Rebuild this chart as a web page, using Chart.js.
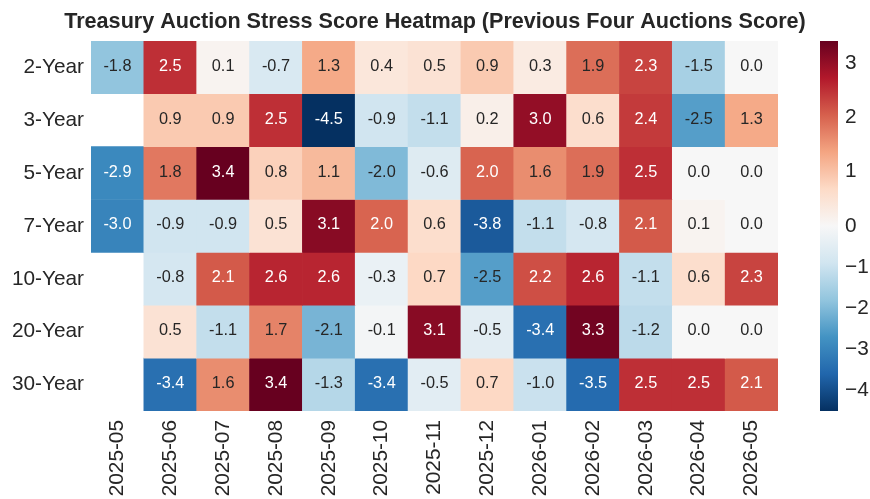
<!DOCTYPE html>
<html>
<head>
<meta charset="utf-8">
<script src="https://cdn.jsdelivr.net/npm/chart.js@4"></script>
<style>
  html, body { margin: 0; padding: 0; background: #fff; }
  #wrap { position: relative; width: 870px; height: 499px; }
  #wrap canvas { position: absolute; left: 0; top: 0; }
</style>
</head>
<body>
<div id="wrap">
  <canvas id="heat" width="870" height="499"></canvas>
  <canvas id="cbar" width="870" height="499"></canvas>
</div>
<script>
const months = ['2025-05', '2025-06', '2025-07', '2025-08', '2025-09', '2025-10', '2025-11',
  '2025-12', '2026-01', '2026-02', '2026-03', '2026-04', '2026-05'];
const tenors = ['2-Year', '3-Year', '5-Year', '7-Year', '10-Year', '20-Year', '30-Year'];

// scores per tenor, one per month (null = no auction)
const score2Y  = [-1.8, 2.5, 0.1, -0.7, 1.3, 0.4, 0.5, 0.9, 0.3, 1.9, 2.3, -1.5, 0.0];
const score3Y  = [null, 0.9, 0.9, 2.5, -4.5, -0.9, -1.1, 0.2, 3.0, 0.6, 2.4, -2.5, 1.3];
const score5Y  = [-2.9, 1.8, 3.4, 0.8, 1.1, -2.0, -0.6, 2.0, 1.6, 1.9, 2.5, 0.0, 0.0];
const score7Y  = [-3.0, -0.9, -0.9, 0.5, 3.1, 2.0, 0.6, -3.8, -1.1, -0.8, 2.1, 0.1, 0.0];
const score10Y = [null, -0.8, 2.1, 2.6, 2.6, -0.3, 0.7, -2.5, 2.2, 2.6, -1.1, 0.6, 2.3];
const score20Y = [null, 0.5, -1.1, 1.7, -2.1, -0.1, 3.1, -0.5, -3.4, 3.3, -1.2, 0.0, 0.0];
const score30Y = [null, -3.4, 1.6, 3.4, -1.3, -3.4, -0.5, 0.7, -1.0, -3.5, 2.5, 2.5, 2.1];

const cbTicks = [-4, -3, -2, -1, 0, 1, 2, 3];
const VMIN = -4.5;
const VMAX = 3.4;

const FONT = "'Liberation Sans', Arial, sans-serif";
const INK = '#262626';

// RdBu_r
const RDBU_R = ['#053061', '#2166ac', '#4393c3', '#92c5de', '#d1e5f0', '#f7f7f7',
  '#fddbc7', '#f4a582', '#d6604d', '#b2182b', '#67001f'];

function hexRgb(h) {
  return [1, 3, 5].map((i) => parseInt(h.slice(i, i + 2), 16));
}

// two-slope norm around 0
function norm(v) {
  return v >= 0 ? 0.5 + 0.5 * v / VMAX : 0.5 - 0.5 * v / VMIN;
}

function cmap(t) {
  t = Math.max(0, Math.min(1, t));
  const p = t * (RDBU_R.length - 1);
  const i = Math.min(Math.floor(p), RDBU_R.length - 2);
  const f = p - i;
  const a = hexRgb(RDBU_R[i]);
  const b = hexRgb(RDBU_R[i + 1]);
  const c = a.map((x, k) => Math.round(x + (b[k] - x) * f));
  return `rgb(${c[0]},${c[1]},${c[2]})`;
}

const rows = [score2Y, score3Y, score5Y, score7Y, score10Y, score20Y, score30Y];

const datasets = rows.map((vals, r) => ({
  label: tenors[r],
  scores: vals,
  data: vals.map((v) => (v == null ? null : [r - 0.5, r + 0.5])),
  backgroundColor: vals.map((v) => (v == null ? 'rgba(0,0,0,0)' : cmap(norm(v)))),
  borderWidth: 0,
  borderSkipped: false,
  grouped: false,
  barPercentage: 1,
  categoryPercentage: 1,
}));

const annotate = {
  id: 'annotate',
  afterDatasetsDraw(chart) {
    const ctx = chart.ctx;
    ctx.save();
    ctx.font = `16.3px ${FONT}`;
    ctx.textAlign = 'center';
    ctx.textBaseline = 'middle';
    chart.data.datasets.forEach((ds, d) => {
      chart.getDatasetMeta(d).data.forEach((bar, i) => {
        const v = ds.scores[i];
        if (v == null) return;
        ctx.fillStyle = Math.abs(norm(v) - 0.5) > 0.285 ? '#ffffff' : INK;
        ctx.fillText(v.toFixed(1), bar.x, (bar.y + bar.base) / 2 - 1);
      });
    });
    ctx.restore();
  },
};

new Chart(document.getElementById('heat'), {
  type: 'bar',
  data: { labels: months, datasets },
  options: {
    responsive: false,
    animation: false,
    layout: { padding: 0 },
    plugins: {
      legend: { display: false },
      tooltip: { enabled: false },
      title: {
        display: true,
        text: 'Treasury Auction Stress Score Heatmap (Previous Four Auctions Score)',
        color: INK,
        font: { family: FONT, size: 21.6, weight: 'bold' },
        padding: { top: 9, bottom: 6 },
      },
    },
    scales: {
      x: {
        type: 'category',
        offset: true,
        grid: { display: false, drawTicks: false },
        border: { display: false },
        ticks: {
          autoSkip: false,
          minRotation: 90,
          maxRotation: 90,
          padding: 9,
          color: INK,
          font: { family: FONT, size: 20.8 },
        },
        afterFit: (s) => { s.height = 88; },
      },
      y: {
        type: 'linear',
        reverse: true,
        min: -0.5,
        max: 6.5,
        grid: { display: false, drawTicks: false },
        border: { display: false },
        afterBuildTicks: (s) => { s.ticks = tenors.map((_, i) => ({ value: i })); },
        ticks: {
          autoSkip: false,
          padding: 7,
          color: INK,
          font: { family: FONT, size: 20.8 },
          callback: (v) => tenors[v],
        },
        afterFit: (s) => { s.width = 91; },
      },
      // spacer that keeps room for the colour bar
      yR: {
        type: 'linear',
        position: 'right',
        display: true,
        grid: { display: false, drawTicks: false },
        border: { display: false },
        ticks: { display: false },
        afterFit: (s) => { s.width = 92; },
      },
    },
  },
  plugins: [annotate],
});

new Chart(document.getElementById('cbar'), {
  type: 'bar',
  data: {
    labels: ['score'],
    datasets: [{
      data: [[0, 1]],
      borderWidth: 0,
      barPercentage: 1,
      categoryPercentage: 1,
      backgroundColor: (c) => {
        const a = c.chart.chartArea;
        if (!a) return null;
        const g = c.chart.ctx.createLinearGradient(0, a.bottom, 0, a.top);
        RDBU_R.forEach((col, i) => g.addColorStop(i / (RDBU_R.length - 1), col));
        return g;
      },
    }],
  },
  options: {
    responsive: false,
    animation: false,
    layout: { padding: { left: 820, top: 41, bottom: 88, right: 0 } },
    plugins: { legend: { display: false }, tooltip: { enabled: false } },
    scales: {
      x: { display: false, offset: true },
      y: {
        type: 'linear',
        position: 'right',
        min: 0,
        max: 1,
        grid: { display: false, drawTicks: false },
        border: { display: false },
        afterBuildTicks: (s) => { s.ticks = cbTicks.map((v) => ({ value: norm(v) })); },
        ticks: {
          padding: 7,
          color: INK,
          font: { family: FONT, size: 20.8 },
          callback: (value, i) => String(cbTicks[i]).replace('-', '\u2212'),
        },
        afterFit: (s) => { s.width = 32; },
      },
    },
  },
});
</script>
</body>
</html>
